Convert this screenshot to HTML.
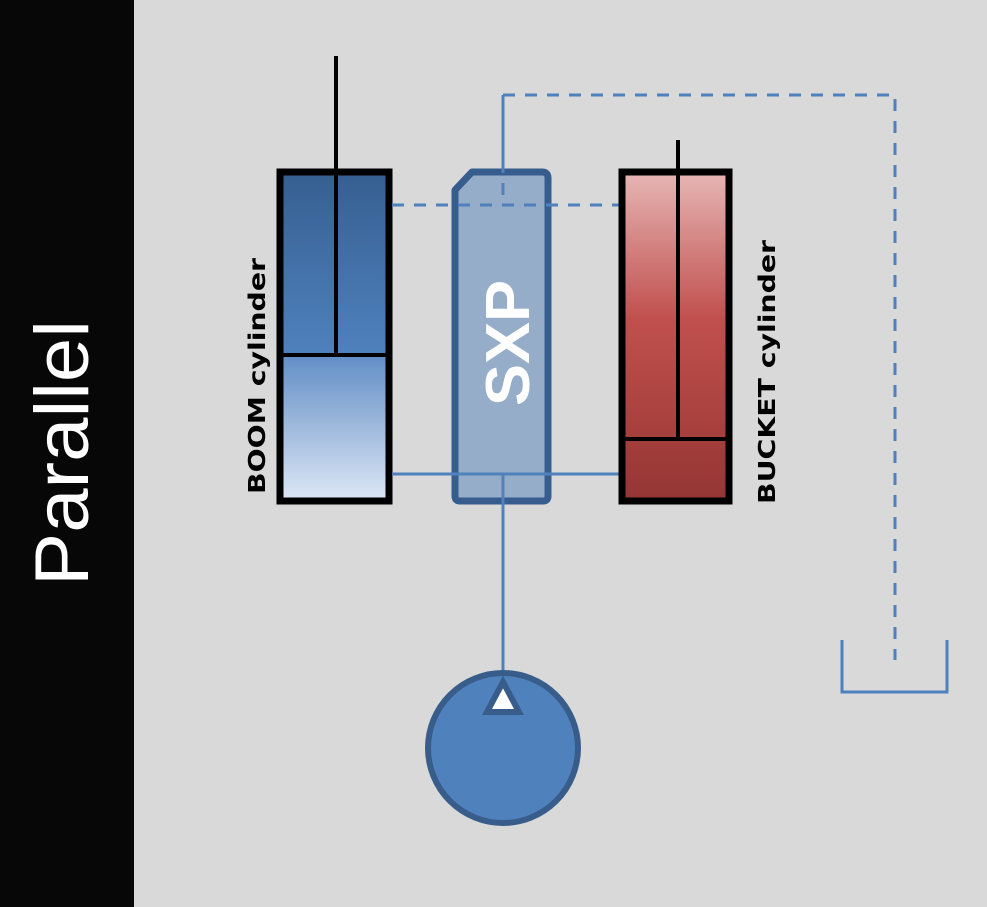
<!DOCTYPE html>
<html><head><meta charset="utf-8"><style>
html,body{margin:0;padding:0;background:#d9d9d9;}
svg{display:block;}
</style></head><body>
<svg width="987" height="907" viewBox="0 0 987 907" xmlns="http://www.w3.org/2000/svg">
<defs>
<linearGradient id="bt" x1="0" y1="0" x2="0" y2="1"><stop offset="0" stop-color="#365f91"/><stop offset="1" stop-color="#4f81bd"/></linearGradient>
<linearGradient id="bb" x1="0" y1="0" x2="0" y2="1"><stop offset="0" stop-color="#628ec6"/><stop offset="1" stop-color="#dde7f5"/></linearGradient>
<linearGradient id="rt" x1="0" y1="0" x2="0" y2="1"><stop offset="0" stop-color="#e6b6b5"/><stop offset="0.55" stop-color="#c0504d"/><stop offset="1" stop-color="#a53f3c"/></linearGradient>
<linearGradient id="rb" x1="0" y1="0" x2="0" y2="1"><stop offset="0" stop-color="#a33e3b"/><stop offset="1" stop-color="#943634"/></linearGradient>
</defs>
<rect x="0" y="0" width="987" height="907" fill="#d9d9d9"/>
<rect x="0" y="0" width="134" height="907" fill="#070707"/>
<text transform="translate(88,586) rotate(-90)" font-family="Liberation Sans, sans-serif" font-size="76" fill="#fff" textLength="266" lengthAdjust="spacingAndGlyphs">Parallel</text>

<!-- connectors -->
<g stroke="#4f81bd" stroke-width="3" fill="none">
<line x1="392" y1="205" x2="619" y2="205" stroke-dasharray="12,10"/>
<polyline points="503,205 503,95 895,95 895,660" stroke-dasharray="12,10"/>
<line x1="392" y1="474" x2="619" y2="474"/>
<polyline points="842,640 842,692 947,692 947,640"/>
</g>

<!-- boom -->
<rect x="280" y="172" width="109" height="183" fill="url(#bt)"/>
<rect x="280" y="355" width="109" height="146" fill="url(#bb)"/>
<rect x="280" y="172" width="109" height="329" fill="none" stroke="#000" stroke-width="7"/>
<line x1="283" y1="355" x2="389" y2="355" stroke="#000" stroke-width="4"/>
<line x1="336" y1="56" x2="336" y2="355" stroke="#000" stroke-width="4"/>
<text transform="translate(265,494) rotate(-90)" font-family="DejaVu Sans, sans-serif" font-weight="bold" font-size="23" fill="#000" textLength="236" lengthAdjust="spacingAndGlyphs">BOOM cylinder</text>

<!-- SXP -->
<path d="M455,190 L472,172 L542,172 Q548,172 548,178 L548,496 Q548,501 543,501 L460,501 Q455,501 455,496 Z" fill="#95adc9" stroke="#375d8e" stroke-width="7" stroke-linejoin="round"/>
<line x1="503" y1="95" x2="503" y2="205" stroke="#4f81bd" stroke-width="3" stroke-dasharray="12,10"/>
<line x1="392" y1="205" x2="619" y2="205" stroke="#4f81bd" stroke-width="3" stroke-dasharray="12,10"/>
<line x1="392" y1="474" x2="619" y2="474" stroke="#4f81bd" stroke-width="3"/>
<line x1="503" y1="474" x2="503" y2="680" stroke="#4f81bd" stroke-width="3"/>
<text transform="translate(529,406) rotate(-90)" font-family="Liberation Sans, sans-serif" font-weight="bold" font-size="62" fill="#fff" textLength="126" lengthAdjust="spacingAndGlyphs">SXP</text>

<!-- bucket -->
<rect x="622" y="172" width="107" height="267" fill="url(#rt)"/>
<rect x="622" y="439" width="107" height="62" fill="url(#rb)"/>
<rect x="622" y="172" width="107" height="329" fill="none" stroke="#000" stroke-width="7"/>
<line x1="625" y1="439" x2="729" y2="439" stroke="#000" stroke-width="4"/>
<line x1="678" y1="140" x2="678" y2="439" stroke="#000" stroke-width="4"/>
<text transform="translate(775,504) rotate(-90)" font-family="DejaVu Sans, sans-serif" font-weight="bold" font-size="23" fill="#000" textLength="264" lengthAdjust="spacingAndGlyphs">BUCKET cylinder</text>

<!-- pump -->
<circle cx="503" cy="748" r="75" fill="#4f81bd" stroke="#385d8a" stroke-width="6"/>
<polygon points="503,682 487,712 519,712" fill="#fff" stroke="#385d8a" stroke-width="6" stroke-linejoin="miter"/>
</svg>
</body></html>
